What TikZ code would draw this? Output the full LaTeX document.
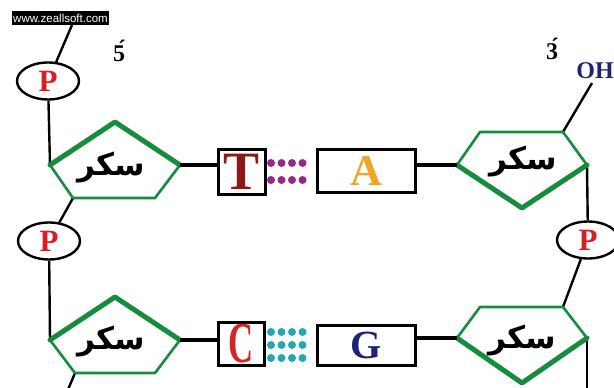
\documentclass[tikz,border=0pt]{standalone}
\usepackage{fontspec}
\setmainfont{Liberation Serif}
\newfontfamily\arabicfont[Script=Arabic]{DejaVu Sans}
\newfontfamily\wmfont{Liberation Sans}
\TeXXeTstate=1
\usetikzlibrary{shapes.geometric}
\definecolor{sugargreen}{RGB}{22,140,62}
\definecolor{pred}{RGB}{215,30,35}
\definecolor{tred}{RGB}{140,25,20}
\definecolor{aorange}{RGB}{240,165,40}
\definecolor{cred}{RGB}{215,35,35}
\definecolor{navy}{RGB}{30,35,120}
\definecolor{pdot}{RGB}{150,40,140}
\definecolor{cdot}{RGB}{40,165,180}
\begin{document}
\begin{tikzpicture}[x=1pt,y=-1pt,
  bond/.style={line width=2.4pt},
  rung/.style={line width=4.5pt},
  thickedge/.style={draw=sugargreen,line width=5pt,line cap=round,line join=round},
  thinedge/.style={draw=sugargreen,line width=2.6pt,line join=round},
  phos/.style={ellipse,draw,line width=2.4pt,fill=white,minimum width=62pt,
    minimum height=37pt,inner sep=0pt,text=pred,font=\bfseries\fontsize{31}{31}\selectfont},
  basebox/.style={draw,line width=3pt,fill=white,inner sep=0pt},
  pairdot/.style={circle,inner sep=0pt,minimum size=8pt},
  sugar/.style={inner sep=0pt,font=\arabicfont\bfseries\fontsize{31}{31}\selectfont},
  endlabel/.style={inner sep=0pt,font=\bfseries\fontsize{24}{24}\selectfont},
]
\useasboundingbox (0,0) rectangle (614,388);

% watermark strip
\node[fill=black,text=white,inner sep=0pt,minimum width=97pt,minimum height=14pt,
  font=\wmfont\fontsize{11.5}{12}\selectfont] (wm) at (60.5,18) {www.zeallsoft.com};

% sugar ring corners
\coordinate (S1a) at (115,122); \coordinate (S1l) at (50,165); \coordinate (S1r) at (180,165);
\coordinate (S1bl) at (73,198); \coordinate (S1br) at (155,198);
\coordinate (S2tl) at (480,132); \coordinate (S2tr) at (563,132); \coordinate (S2r) at (587,165);
\coordinate (S2l) at (457,165); \coordinate (S2b) at (522,208);
\coordinate (S3a) at (115,297); \coordinate (S3l) at (50,340); \coordinate (S3r) at (180,340);
\coordinate (S3bl) at (75,373); \coordinate (S3br) at (155,373);
\coordinate (S4tl) at (480,307); \coordinate (S4tr) at (563,307); \coordinate (S4r) at (587,338);
\coordinate (S4l) at (457,338); \coordinate (S4b) at (522,383);

% loose strand ends
\coordinate (top1) at (72,25);
\coordinate (oh1) at (592,83);
\coordinate (bot1) at (67,392);
\coordinate (bot2) at (587,392);

% phosphate groups
\node[phos] (P1) at (48,81) {P};
\node[phos] (P2) at (49,241) {P};
\node[phos] (P3) at (588,240) {P};

% backbone
\draw[bond] (P1) -- (top1);
\draw[bond] (P1) -- (S1l);
\draw[bond] (S1bl) -- (P2);
\draw[bond] (P2) -- (S3l);
\draw[bond] (S3bl) -- (bot1);
\draw[bond] (S2tr) -- (oh1);
\draw[bond] (S2r) -- (P3);
\draw[bond] (P3) -- (S4tr);
\draw[bond] (S4r) -- (bot2);

% sugars: upward pentagons on the left strand
\foreach \s in {S1,S3}{
  \fill[white] (\s a) -- (\s r) -- (\s br) -- (\s bl) -- (\s l) -- cycle;
  \draw[thinedge] (\s l) -- (\s bl) -- (\s br) -- (\s r);
  \draw[thickedge] (\s l) -- (\s a) -- (\s r);
}
% sugars: downward pentagons on the right strand
\foreach \s in {S2,S4}{
  \fill[white] (\s tl) -- (\s tr) -- (\s r) -- (\s b) -- (\s l) -- cycle;
  \draw[thinedge] (\s l) -- (\s tl) -- (\s tr) -- (\s r);
  \draw[thickedge] (\s l) -- (\s b) -- (\s r);
}
\node[sugar] (s1) at (111,168) {\beginR سکر\endR};
\node[sugar] (s2) at (523,162) {\beginR سکر\endR};
\node[sugar] (s3) at (111,342) {\beginR سکر\endR};
\node[sugar] (s4) at (522,341) {\beginR سکر\endR};

% bases
\node[basebox,minimum width=47pt,minimum height=45pt,text=tred,
  font=\bfseries\fontsize{54}{54}\selectfont] (T) at (241.5,172) {T};
\node[basebox,minimum width=98pt,minimum height=43pt,text=aorange,
  font=\bfseries\fontsize{44}{44}\selectfont] (A) at (366,170.5) {A};
\node[basebox,minimum width=46pt,minimum height=43pt,text=cred,
  font=\bfseries\fontsize{58}{58}\selectfont] (C) at (241,343.5) {\scalebox{0.6}[1]{C}};
\node[basebox,minimum width=98pt,minimum height=40pt,text=navy,
  font=\bfseries\fontsize{40}{40}\selectfont] (G) at (366,345) {G};

% sugar-base links
\draw[rung] (S1r) -- (S1r -| T.west);
\draw[rung] (A.east |- S2l) -- (S2l);
\draw[rung] (S3r) -- (S3r -| C.west);
\draw[rung] (G.east |- S4l) -- (S4l);

% hydrogen bonds
\foreach \x [count=\i] in {271,281.5,292,302.5}{
  \foreach \y [count=\j] in {163,180}
    \node[pairdot,fill=pdot] (ta-\i-\j) at (\x,\y) {};
  \foreach \y [count=\j] in {332,345,358}
    \node[pairdot,fill=cdot] (cg-\i-\j) at (\x,\y) {};
}

% strand ends
\node[endlabel] (five) at (119,51) {\'{5}};
\node[endlabel] (three) at (552,49) {\'{3}};
\node[endlabel,text=navy] (OH) at (595,71) {OH};
\end{tikzpicture}
\end{document}
